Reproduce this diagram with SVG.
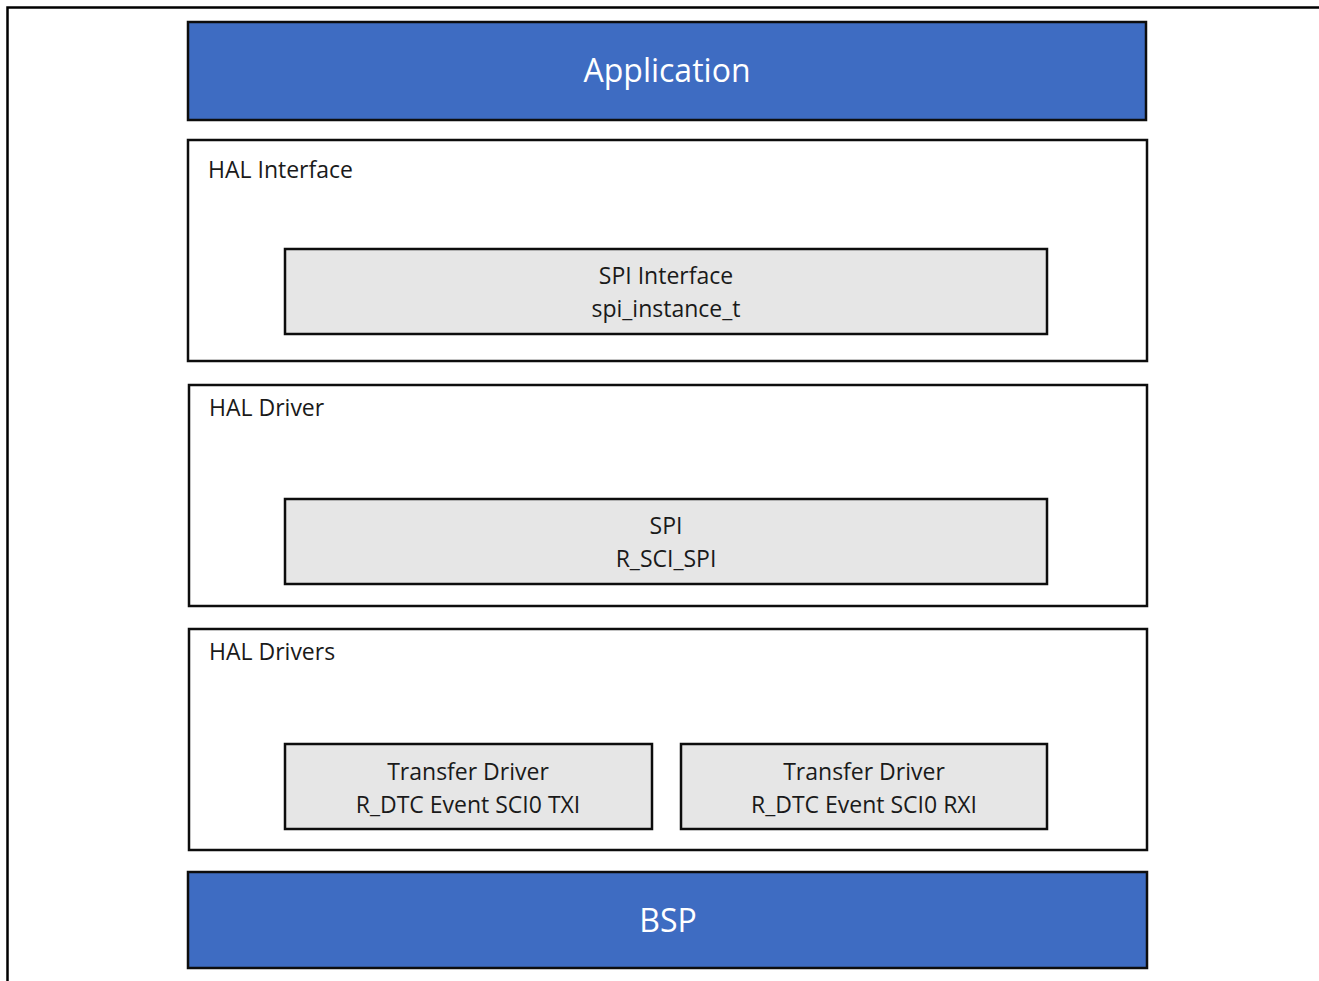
<svg xmlns="http://www.w3.org/2000/svg" width="1319" height="981" viewBox="0 0 1319 981">
<style>
.blue{fill:#3E6CC2;stroke:#0D0D0D;stroke-width:2.5}
.layer{fill:#FFFFFF;stroke:#0D0D0D;stroke-width:2.5}
.box{fill:#E6E6E6;stroke:#0D0D0D;stroke-width:2.5}
.t{font-family:"Open Sans","Liberation Sans",sans-serif;fill:#1A1A1A;font-size:23px}
.w{font-family:"Open Sans","Liberation Sans",sans-serif;fill:#FFFFFF;font-size:32px;text-anchor:middle}
.c{text-anchor:middle}
</style>
<rect width="1319" height="981" fill="#FFFFFF"/>
<path d="M7.5 981 V7.5 H1319" fill="none" stroke="#000" stroke-width="2.5"/>
<g id="application"><rect class="blue" x="188" y="22" width="958" height="98"/><text class="w" x="667" y="82">Application</text></g>
<g id="hal-interface"><rect class="layer" x="188" y="140" width="959" height="221"/><text class="t" x="208" y="178">HAL Interface</text></g>
<g id="spi-interface"><rect class="box" x="285" y="249" width="762" height="85"/><text class="t c" x="666" y="284">SPI Interface</text><text class="t c" x="666" y="317">spi_instance_t</text></g>
<g id="hal-driver"><rect class="layer" x="189" y="385" width="958" height="221"/><text class="t" x="209" y="416">HAL Driver</text></g>
<g id="spi"><rect class="box" x="285" y="499" width="762" height="85"/><text class="t c" x="666" y="534">SPI</text><text class="t c" x="666" y="567">R_SCI_SPI</text></g>
<g id="hal-drivers"><rect class="layer" x="189" y="629" width="958" height="221"/><text class="t" x="209" y="660">HAL Drivers</text></g>
<g id="transfer-txi"><rect class="box" x="285" y="744" width="367" height="85"/><text class="t c" x="468" y="780">Transfer Driver</text><text class="t c" x="468" y="813">R_DTC Event SCI0 TXI</text></g>
<g id="transfer-rxi"><rect class="box" x="681" y="744" width="366" height="85"/><text class="t c" x="864" y="780">Transfer Driver</text><text class="t c" x="864" y="813">R_DTC Event SCI0 RXI</text></g>
<g id="bsp"><rect class="blue" x="188" y="872" width="959" height="96"/><text class="w" x="668" y="932">BSP</text></g>
<g id="connectors"></g>
</svg>
